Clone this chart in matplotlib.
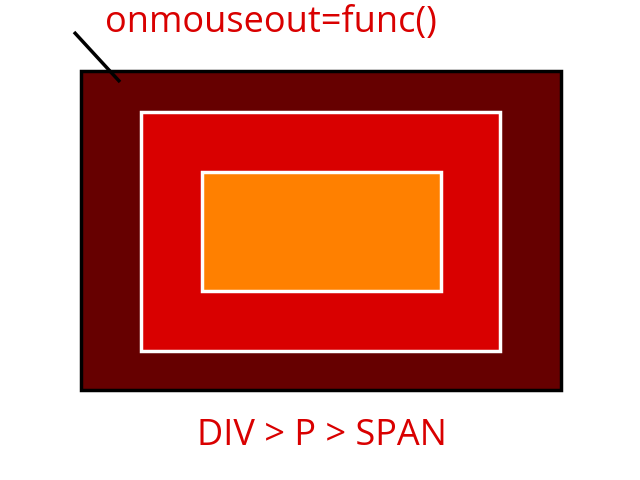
import matplotlib
matplotlib.use('Agg')
from matplotlib import pyplot as plt
from matplotlib.patches import Rectangle

# nested boxes: (left, top, right, bottom) in pixels
box_names = ['DIV', 'P', 'SPAN']
box_lefts = [81, 141, 202]
box_tops = [71, 112, 172]
box_rights = [561, 500, 441]
box_bottoms = [390, 351, 291]
box_fills = ['#660000', '#d90000', '#ff8000']
box_edges = ['black', 'white', 'white']

event_label = 'onmouseout=func()'
path_label = ' > '.join(box_names)

fig = plt.figure(figsize=(6.4, 4.8), dpi=100)
ax = fig.add_axes([0, 0, 1, 1])
ax.set_xlim(0, 640)
ax.set_ylim(480, 0)
ax.axis('off')

for l, t, r, b, fc, ec in zip(box_lefts, box_tops, box_rights, box_bottoms, box_fills, box_edges):
    ax.add_patch(Rectangle((l, t), r - l, b - t, facecolor=fc, edgecolor=ec, linewidth=2.5))

# pointer line from label to outer box
ax.plot([74, 120], [32, 82], color='black', linewidth=2.5, solid_capstyle='butt')

ax.text(271, 23, event_label, color='#d90000', fontsize=26, family='Open Sans',
        ha='center', va='center')
ax.text(321.5, 436, path_label, color='#d90000', fontsize=26, family='Open Sans',
        ha='center', va='center')

fig.savefig('out.png', dpi=100)
